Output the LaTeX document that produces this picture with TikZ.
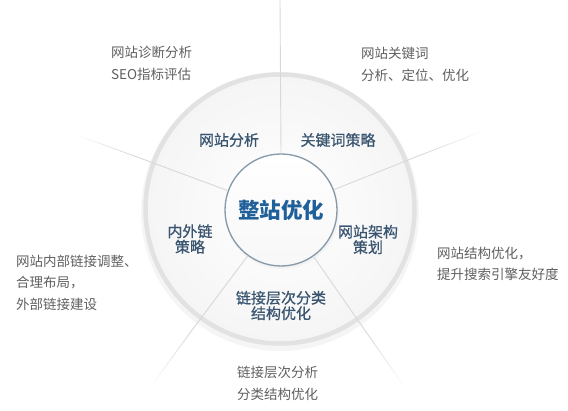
\documentclass[tikz,border=0pt]{standalone}
\usepackage{fontspec}
\setmainfont{Noto Sans CJK SC}
\newfontfamily\segfont{Noto Sans CJK SC}[FakeBold=0.7]
\usetikzlibrary{calc,shadows}
\definecolor{outertxt}{HTML}{606060}
\definecolor{segtxt}{HTML}{3A5570}
\definecolor{centtxt}{HTML}{1F5F9A}
\definecolor{spokec}{HTML}{D8D8D8}
\definecolor{ringc}{HTML}{E2E2E2}
\definecolor{innerb}{HTML}{8499AA}
\tikzset{
  outerlbl/.style={anchor=west, inner sep=0pt, align=left, text=outertxt,
    font=\fontsize{13.5}{21.5}\selectfont},
  seglbl/.style={inner sep=0pt, align=center, text=segtxt,
    font=\segfont\fontsize{15}{15.5}\selectfont},
  spokeline/.style={spokec, line width=0.9pt},
}
\begin{document}
\begin{tikzpicture}[x=1pt,y=1pt]
\useasboundingbox[fill=white] (0,0) rectangle (568,411);
\coordinate (c) at (280,202);
% soft shadow and disc
\fill[black!4] ($(c)+(0,-3)$) circle[radius=139];
\shade[inner color=white, outer color=black!4] (c) circle[radius=137];
\draw[ringc, line width=4.5pt] (c) circle[radius=134.5];
% hub
\node[circle, minimum size=112pt, inner sep=0pt, top color=white, bottom color=black!3,
  draw=innerb, line width=1.3pt,
  circular drop shadow={shadow xshift=0.5pt, shadow yshift=-1.5pt, opacity=0.22, shadow scale=1.04},
  text=centtxt, font=\fontsize{21.5}{21.5}\selectfont\bfseries] (hub) at ($(c)+(1,-1)$) {整站优化};
% spokes
\coordinate (etop) at (280,411);
\draw[spokeline] (hub.90) -- (etop);
\foreach \a in {21,-55,-126,160} {
  \coordinate (m\a) at ($(c)+(\a:150)$);
  \draw[spokeline] (hub.\a) -- (m\a);
  \foreach \i in {0,...,12} {
    \draw[spokeline, opacity={1-\i/13}] ($(c)+(\a:150+5*\i)$) -- ($(c)+(\a:155+5*\i)$);
  }
}
% segment labels
\node[seglbl] (s1) at (229,271) {网站分析};
\node[seglbl] (s2) at (338,271) {关键词策略};
\node[seglbl] (s3) at (368,171.5) {网站架构\\策划};
\node[seglbl] (s4) at (190,172) {内外链\\策略};
\node[seglbl] (s5) at (281,105.5) {链接层次分类\\结构优化};
% outer labels
\node[outerlbl] (o1) at (111,347.4) {网站诊断分析\\SEO指标评估};
\node[outerlbl] (o2) at (361,346.5) {网站关键词\\分析、定位、优化};
\node[outerlbl] (o3) at (16,128.5) {网站内部链接调整、\\合理布局，\\外部链接建设};
\node[outerlbl] (o4) at (437,147) {网站结构优化，\\提升搜索引擎友好度};
\node[outerlbl] (o5) at (237,27.5) {链接层次分析\\分类结构优化};
\end{tikzpicture}
\end{document}
